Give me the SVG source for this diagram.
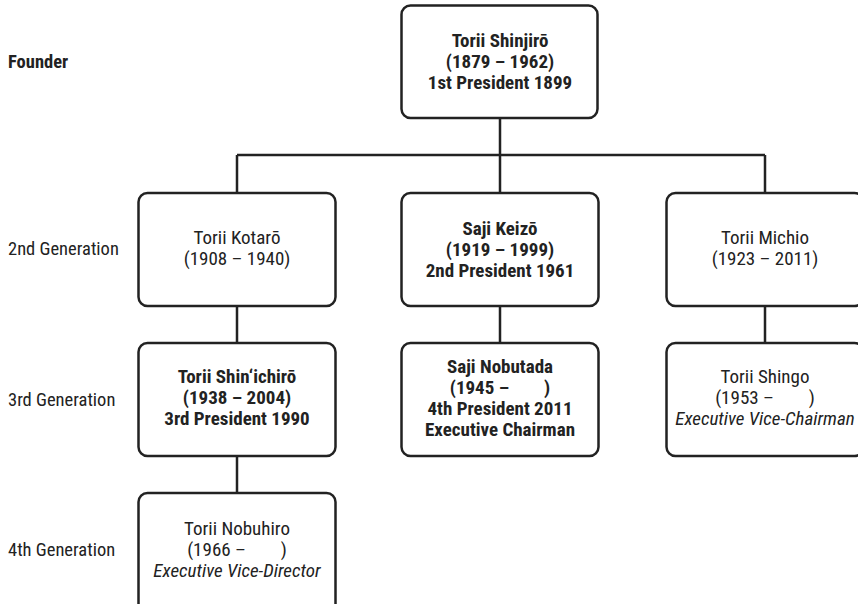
<svg xmlns="http://www.w3.org/2000/svg" width="858" height="604" viewBox="0 0 858 604">
  <style>
    .box { fill: #ffffff; stroke: #222222; stroke-width: 2.5; }
    .link { fill: none; stroke: #222222; stroke-width: 2.5; }
    text { font-family: "Roboto Condensed", Roboto, "Liberation Sans", sans-serif; font-size: 19px; fill: #222222; text-anchor: middle; white-space: pre; }
    .b { font-weight: bold; }
    .i { font-style: italic; }
    .lbl { text-anchor: start; font-size: 18.5px; }
  </style>

  <!-- generation labels -->
  <g id="labels">
    <text class="lbl b" x="8" y="68">Founder</text>
    <text class="lbl" x="8" y="255">2nd Generation</text>
    <text class="lbl" x="8" y="406">3rd Generation</text>
    <text class="lbl" x="8" y="556">4th Generation</text>
  </g>

  <!-- connectors -->
  <g id="connectors">
    <path class="link" d="M500 118 V155 M237 155 H765 M237 155 V193 M500 155 V193 M765 155 V193"/>
    <path class="link" d="M237 306 V343 M500 306 V343 M765 306 V343"/>
    <path class="link" d="M237 456 V493"/>
  </g>

  <g id="shinjiro">
    <rect class="box" x="401.5" y="5.5" width="196" height="112.5" rx="9"/>
    <text class="b" x="500" y="47">Torii Shinjirō</text>
    <text class="b" x="500" y="68">(1879 – 1962)</text>
    <text class="b" x="500" y="89">1st President 1899</text>
  </g>

  <g id="kotaro">
    <rect class="box" x="138.5" y="193" width="197" height="113" rx="9"/>
    <text x="237" y="244">Torii Kotarō</text>
    <text x="237" y="265">(1908 – 1940)</text>
  </g>

  <g id="keizo">
    <rect class="box" x="401.5" y="193" width="197" height="113" rx="9"/>
    <text class="b" x="500" y="235">Saji Keizō</text>
    <text class="b" x="500" y="256">(1919 – 1999)</text>
    <text class="b" x="500" y="277">2nd President 1961</text>
  </g>

  <g id="michio">
    <rect class="box" x="666.5" y="193" width="197" height="113" rx="9"/>
    <text x="765" y="244">Torii Michio</text>
    <text x="765" y="265">(1923 – 2011)</text>
  </g>

  <g id="shinichiro">
    <rect class="box" x="138.5" y="343" width="197" height="113" rx="9"/>
    <text class="b" x="237" y="383">Torii Shin‘ichirō</text>
    <text class="b" x="237" y="404">(1938 – 2004)</text>
    <text class="b" x="237" y="425">3rd President 1990</text>
  </g>

  <g id="nobutada">
    <rect class="box" x="401.5" y="343" width="197" height="113" rx="9"/>
    <text class="b" x="500" y="373">Saji Nobutada</text>
    <text class="b" x="500" y="394">(1945 –        )</text>
    <text class="b" x="500" y="415">4th President 2011</text>
    <text class="b" x="500" y="436">Executive Chairman</text>
  </g>

  <g id="shingo">
    <rect class="box" x="666.5" y="343" width="197" height="113" rx="9"/>
    <text x="765" y="383">Torii Shingo</text>
    <text x="765" y="404">(1953 –        )</text>
    <text class="i" x="765" y="425">Executive Vice-Chairman</text>
  </g>

  <g id="nobuhiro">
    <rect class="box" x="138.5" y="493" width="197" height="120" rx="9"/>
    <text x="237" y="535">Torii Nobuhiro</text>
    <text x="237" y="556">(1966 –        )</text>
    <text class="i" x="237" y="577">Executive Vice-Director</text>
  </g>
</svg>
